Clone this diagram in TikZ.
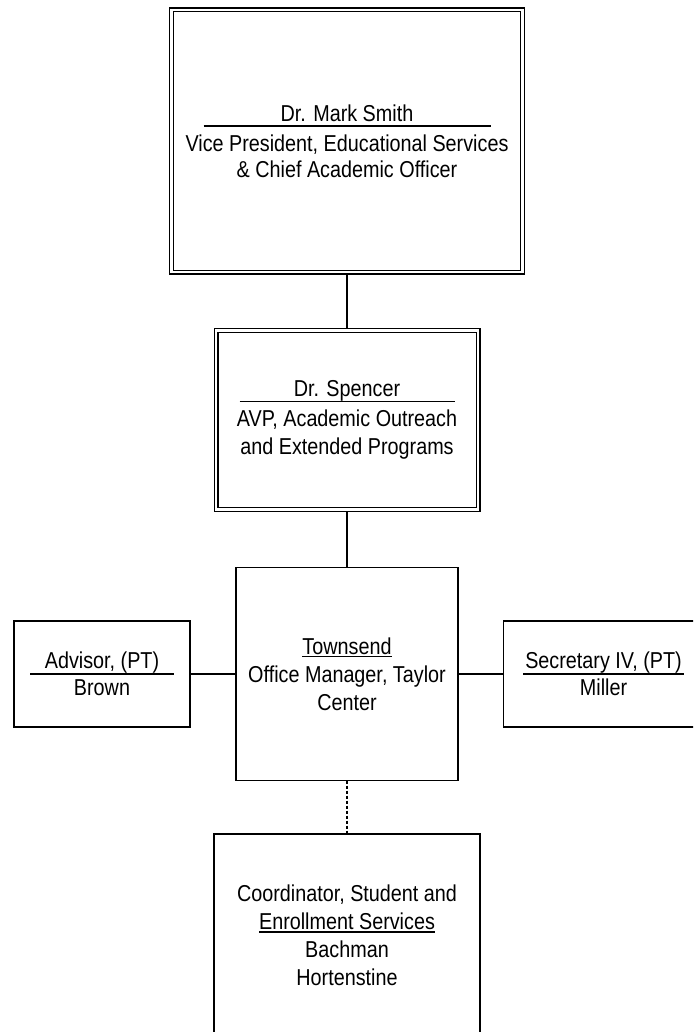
\documentclass[tikz,border=0pt]{standalone}
\usepackage{fontspec}
\newfontfamily\chartfont{Liberation Sans}[FakeStretch=0.86]
\usepackage{tikz}
\usetikzlibrary{positioning}

% rule of fixed width under a name
\newcommand{\nameline}[2]{\makebox[#1]{#2}\llap{\rule[-5.8pt]{#1}{1.6pt}}}
% plain underline
\newcommand{\undertext}[1]{\setbox0\hbox{#1}\rlap{\rule[-2.8pt]{\wd0}{1.4pt}}\box0}

\begin{document}
\begin{tikzpicture}[x=1pt, y=-1pt,
    box/.style={draw, line width=1.7pt, align=center, inner sep=0pt, outer sep=0pt,
      font=\chartfont\fontsize{23}{28}\selectfont},
    headbox/.style={box, line width=1.4pt, double, double distance=2.2pt, outer sep=2.5pt},
    link/.style={line width=1.6pt}]
    \useasboundingbox (0,0) rectangle (693,1032);
    \clip (0,0) rectangle (693,1032);

    % Nodes
    \node (vp) [headbox, minimum width=351pt, minimum height=262pt] at (347,141)
      {\nameline{287pt}{Dr. Mark Smith}\\[2pt]Vice President, Educational Services\\[-2pt]\& Chief Academic Officer};
    \node (avp) [headbox, minimum width=262pt, minimum height=179pt, below=53.5pt of vp]
      {\nameline{215pt}{Dr. Spencer}\\[2pt]AVP, Academic Outreach\\and Extended Programs};
    \node (manager) [box, minimum width=222pt, minimum height=213pt, below=55.5pt of avp]
      {\undertext{Townsend}\\Office Manager, Taylor\\Center};
    \node (advisor) [box, minimum width=176pt, minimum height=106pt, left=46pt of manager]
      {\nameline{144pt}{Advisor, (PT)}\\[-1pt]Brown};
    \node (secretary) [box, minimum width=200pt, minimum height=106pt, right=45.5pt of manager]
      {\nameline{161pt}{Secretary IV, (PT)}\\[-1pt]Miller};
    \node (coordinator) [box, minimum width=266pt, minimum height=203pt, below=53.5pt of manager]
      {Coordinator, Student and\\\undertext{Enrollment Services}\\Bachman\\Hortenstine};

    % Lines
    \draw[link] (vp.south) -- (avp.north);
    \draw[link] (avp.south) -- (manager.north);
    \draw[link] (manager.west) -- (advisor.east);
    \draw[link] (manager.east) -- (secretary.west);
    \draw[link, dash pattern=on 3pt off 2pt] (manager.south) -- (coordinator.north);
\end{tikzpicture}
\end{document}
